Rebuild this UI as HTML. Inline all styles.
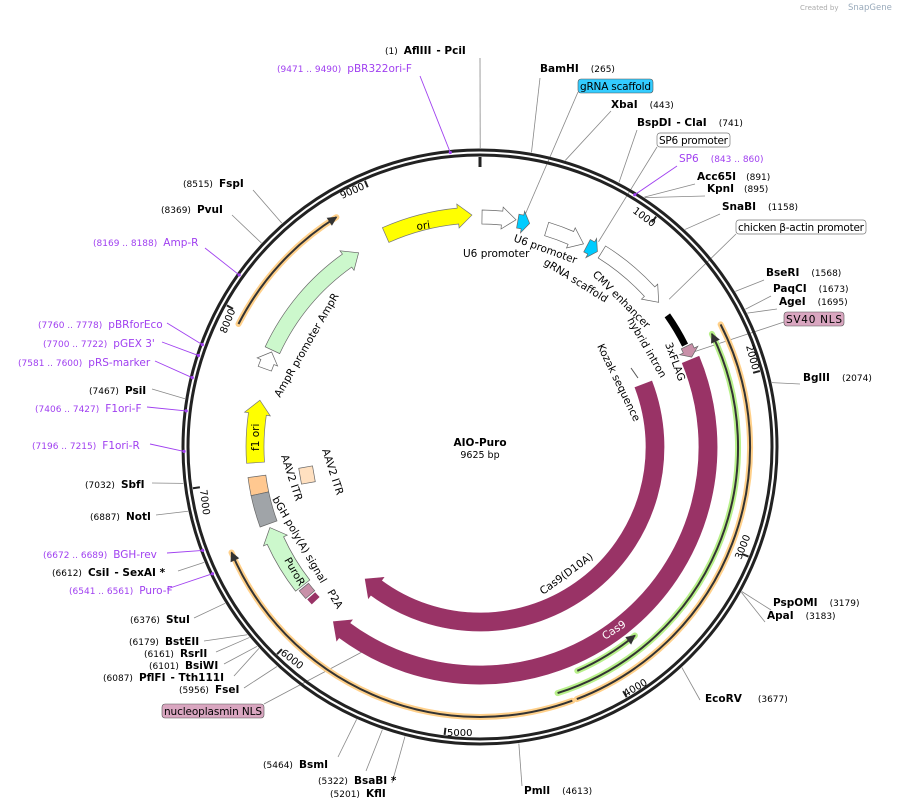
<!DOCTYPE html>
<html><head><meta charset="utf-8"><style>
html,body{margin:0;padding:0;background:#fff}
svg{display:block;font-family:"DejaVu Sans","Liberation Sans",sans-serif}
.e{font-size:10.5px;font-weight:bold;fill:#000}
.n{font-size:9px;fill:#000}
.p{font-size:10.5px;fill:#a040f0}
.f{font-size:10.5px;fill:#000}
.t{font-size:10px;fill:#000}
</style></head><body>
<svg id="s" width="897" height="809" viewBox="0 0 897 809" xmlns="http://www.w3.org/2000/svg">
<text x="800" y="10" style="font-size:7px;fill:#aaa">Created by</text><text x="848" y="10" style="font-size:8.5px;fill:#9ab">SnapGene</text>
<g id="lines" stroke="#888" stroke-width="0.8" fill="none"></g>
<g id="feat"></g>
<circle cx="480" cy="447" r="297" fill="none" stroke="#222" stroke-width="3"/>
<circle cx="480" cy="447" r="292" fill="none" stroke="#222" stroke-width="3"/>
<g id="ticks" stroke="#222" stroke-width="2"></g>
<g id="prim" stroke="#a040f0" stroke-width="2"></g>

<text class="t" transform="translate(632,212) rotate(37)">1000</text>
<text class="t" transform="translate(746,346) rotate(75)">2000</text>
<text class="t" transform="translate(741,560) rotate(-68)">3000</text>
<text class="t" transform="translate(626,697) rotate(-30)">4000</text>
<text class="t" x="447" y="736">5000</text>
<text class="t" transform="translate(280,654) rotate(38)">6000</text>
<text class="t" transform="translate(200,490) rotate(83)">7000</text>
<text class="t" transform="translate(226,334) rotate(-68)">8000</text>
<text class="t" transform="translate(342,199) rotate(-24)">9000</text>

<text x="480" y="446" text-anchor="middle" style="font-size:10.5px;font-weight:bold">AIO-Puro</text>
<text x="480" y="458" text-anchor="middle" style="font-size:9.5px">9625 bp</text>

<text class="f" transform="translate(417,230) rotate(-8)">ori</text>
<text class="f" x="463" y="257">U6 promoter</text>
<text class="f" transform="translate(513,241) rotate(20)">U6 promoter</text>
<text class="f" transform="translate(543,264) rotate(32)">gRNA scaffold</text>
<text class="f" transform="translate(592,275) rotate(45)">CMV enhancer</text>
<text class="f" transform="translate(627,320) rotate(60)">hybrid intron</text>
<text class="f" transform="translate(665,344) rotate(70)">3xFLAG</text>
<text class="f" transform="translate(597,346) rotate(64)">Kozak sequence</text>
<text class="f" transform="translate(543,595) rotate(-36)">Cas9(D10A)</text>
<text transform="translate(605,640) rotate(-33)" style="font-size:10.5px;fill:#fff">Cas9</text>
<text class="f" transform="translate(280,398) rotate(-60)">AmpR promoter   AmpR</text>
<text transform="translate(259,451) rotate(-90)" style="font-size:10.5px">f1 ori</text>
<text class="f" transform="translate(281,456) rotate(72)">AAV2 ITR</text>
<text class="f" transform="translate(322,450) rotate(72)">AAV2 ITR</text>
<text class="f" transform="translate(272,499) rotate(60)">bGH poly(A) signal</text>
<text transform="translate(284,560) rotate(60)" style="font-size:10.5px">PuroR</text>
<text class="f" transform="translate(327,592) rotate(60)">P2A</text>

<text x="385" y="54"><tspan class="n">(1)</tspan><tspan class="e" dx="6">AflIII</tspan><tspan class="e" dx="5">- PciI</tspan></text>
<text x="277" y="72" class="p"><tspan style="font-size:9px">(9471 .. 9490)</tspan><tspan dx="6">pBR322ori-F</tspan></text>
<text x="540" y="72"><tspan class="e">BamHI</tspan><tspan class="n" dx="12">(265)</tspan></text>
<rect x="578" y="79" width="75" height="14" rx="3" fill="#33ccff" stroke="#555" stroke-width="0.6"/><text class="f" x="580" y="90" textLength="71">gRNA scaffold</text>
<text x="611" y="108"><tspan class="e">XbaI</tspan><tspan class="n" dx="12">(443)</tspan></text>
<text x="637" y="126"><tspan class="e">BspDI</tspan><tspan class="e" dx="5">- ClaI</tspan><tspan class="n" dx="12">(741)</tspan></text>
<rect x="657" y="133" width="73" height="14" rx="3" fill="#fff" stroke="#777" stroke-width="0.7"/><text class="f" x="659" y="144" textLength="69">SP6 promoter</text>
<text x="679" y="162" class="p"><tspan>SP6</tspan><tspan dx="12" style="font-size:9px">(843 .. 860)</tspan></text>
<text x="697" y="180"><tspan class="e">Acc65I</tspan><tspan class="n" dx="10">(891)</tspan></text>
<text x="707" y="192"><tspan class="e">KpnI</tspan><tspan class="n" dx="10">(895)</tspan></text>
<text x="722" y="210"><tspan class="e">SnaBI</tspan><tspan class="n" dx="12">(1158)</tspan></text>
<rect x="736" y="220" width="130" height="14" rx="3" fill="#fff" stroke="#777" stroke-width="0.7"/><text class="f" x="738" y="231" textLength="126">chicken β-actin promoter</text>
<text x="766" y="276"><tspan class="e">BseRI</tspan><tspan class="n" dx="12">(1568)</tspan></text>
<text x="773" y="292"><tspan class="e">PaqCI</tspan><tspan class="n" dx="12">(1673)</tspan></text>
<text x="779" y="305"><tspan class="e">AgeI</tspan><tspan class="n" dx="12">(1695)</tspan></text>
<rect x="784" y="312" width="60" height="14" rx="3" fill="#d9a6c0" stroke="#555" stroke-width="0.6"/><text class="f" x="786" y="323" textLength="56">SV40 NLS</text>
<text x="803" y="381"><tspan class="e">BglII</tspan><tspan class="n" dx="12">(2074)</tspan></text>
<text x="773" y="606"><tspan class="e">PspOMI</tspan><tspan class="n" dx="12">(3179)</tspan></text>
<text x="767" y="619"><tspan class="e">ApaI</tspan><tspan class="n" dx="12">(3183)</tspan></text>
<text x="705" y="702"><tspan class="e">EcoRV</tspan><tspan class="n" dx="16">(3677)</tspan></text>
<text x="524" y="794"><tspan class="e">PmlI</tspan><tspan class="n" dx="12">(4613)</tspan></text>
<text x="330" y="797"><tspan class="n">(5201)</tspan><tspan class="e" dx="6">KflI</tspan></text>
<text x="318" y="784"><tspan class="n">(5322)</tspan><tspan class="e" dx="6">BsaBI *</tspan></text>
<text x="263" y="768"><tspan class="n">(5464)</tspan><tspan class="e" dx="6">BsmI</tspan></text>
<rect x="162" y="704" width="102" height="14" rx="3" fill="#d9a6c0" stroke="#555" stroke-width="0.6"/><text class="f" x="164" y="715" textLength="98">nucleoplasmin NLS</text>
<text x="179" y="693"><tspan class="n">(5956)</tspan><tspan class="e" dx="6">FseI</tspan></text>
<text x="103" y="681"><tspan class="n">(6087)</tspan><tspan class="e" dx="6">PflFI</tspan><tspan class="e" dx="5">- Tth111I</tspan></text>
<text x="149" y="669"><tspan class="n">(6101)</tspan><tspan class="e" dx="6">BsiWI</tspan></text>
<text x="144" y="657"><tspan class="n">(6161)</tspan><tspan class="e" dx="6">RsrII</tspan></text>
<text x="129" y="645"><tspan class="n">(6179)</tspan><tspan class="e" dx="6">BstEII</tspan></text>
<text x="130" y="623"><tspan class="n">(6376)</tspan><tspan class="e" dx="6">StuI</tspan></text>
<text x="69" y="594" class="p"><tspan style="font-size:9px">(6541 .. 6561)</tspan><tspan dx="6">Puro-F</tspan></text>
<text x="52" y="576"><tspan class="n">(6612)</tspan><tspan class="e" dx="6">CsiI</tspan><tspan class="e" dx="5">- SexAI *</tspan></text>
<text x="43" y="558" class="p"><tspan style="font-size:9px">(6672 .. 6689)</tspan><tspan dx="6">BGH-rev</tspan></text>
<text x="90" y="520"><tspan class="n">(6887)</tspan><tspan class="e" dx="6">NotI</tspan></text>
<text x="85" y="488"><tspan class="n">(7032)</tspan><tspan class="e" dx="6">SbfI</tspan></text>
<text x="32" y="449" class="p"><tspan style="font-size:9px">(7196 .. 7215)</tspan><tspan dx="6">F1ori-R</tspan></text>
<text x="35" y="412" class="p"><tspan style="font-size:9px">(7406 .. 7427)</tspan><tspan dx="6">F1ori-F</tspan></text>
<text x="89" y="394"><tspan class="n">(7467)</tspan><tspan class="e" dx="6">PsiI</tspan></text>
<text x="18" y="366" class="p"><tspan style="font-size:9px">(7581 .. 7600)</tspan><tspan dx="6">pRS-marker</tspan></text>
<text x="43" y="347" class="p"><tspan style="font-size:9px">(7700 .. 7722)</tspan><tspan dx="6">pGEX 3'</tspan></text>
<text x="38" y="328" class="p"><tspan style="font-size:9px">(7760 .. 7778)</tspan><tspan dx="6">pBRforEco</tspan></text>
<text x="93" y="246" class="p"><tspan style="font-size:9px">(8169 .. 8188)</tspan><tspan dx="6">Amp-R</tspan></text>
<text x="161" y="213"><tspan class="n">(8369)</tspan><tspan class="e" dx="6">PvuI</tspan></text>
<text x="183" y="187"><tspan class="n">(8515)</tspan><tspan class="e" dx="6">FspI</tspan></text>
</svg>
<script>
(function(){
var cx=480,cy=447,NS="http://www.w3.org/2000/svg";
function pt(r,d){var a=d*Math.PI/180;return [cx+r*Math.sin(a),cy-r*Math.cos(a)];}
function P(p){return p[0].toFixed(1)+","+p[1].toFixed(1);}
function el(g,tag,at){var e=document.createElementNS(NS,tag);for(var k in at)e.setAttribute(k,at[k]);document.getElementById(g).appendChild(e);return e;}
function arcP(r,a1,a2){var large=Math.abs(a2-a1)>180?1:0,sw=a2>a1?1:0;return "A"+r+","+r+" 0 "+large+","+sw+" "+P(pt(r,a2));}
function band(r,w,a1,a2,dir,fill,stroke){
  var ro=r+w/2,ri=r-w/2,head=Math.min(14/r*180/Math.PI,(a2-a1)*0.6),d;
  if(dir==1){var b=a2-head;
    d="M"+P(pt(ro,a1))+arcP(ro,a1,b)+"L"+P(pt(ro+4,b))+"L"+P(pt(r,a2))+"L"+P(pt(ri-4,b))+"L"+P(pt(ri,b))+arcP(ri,b,a1)+"Z";
  }else if(dir==-1){var b=a1+head;
    d="M"+P(pt(ro,a2))+arcP(ro,a2,b)+"L"+P(pt(ro+4,b))+"L"+P(pt(r,a1))+"L"+P(pt(ri-4,b))+"L"+P(pt(ri,b))+arcP(ri,b,a2)+"Z";
  }else{d="M"+P(pt(ro,a1))+arcP(ro,a1,a2)+"L"+P(pt(ri,a2))+arcP(ri,a2,a1)+"Z";}
  el("feat","path",{d:d,fill:fill,stroke:stroke||"#666","stroke-width":0.7});
}
function line(r,a1,a2,dir,halo){
  var d="M"+P(pt(r,a1))+arcP(r,a1,a2);
  el("feat","path",{d:d,fill:"none",stroke:halo,"stroke-width":6,"stroke-linecap":"round"});
  el("feat","path",{d:d,fill:"none",stroke:"#333","stroke-width":2});
  var e=dir==1?a2:a1,s=dir==1?-1:1,h=8/r*180/Math.PI;
  if(dir){el("feat","path",{d:"M"+P(pt(r+4,e+s*h))+"L"+P(pt(r,e))+"L"+P(pt(r-4,e+s*h))+"Z",fill:"#333",stroke:"#333","stroke-width":1});}
}
var MR="#993366";
line(270,63,159,0,"#ffd08a");
line(270,160,247,1,"#ffd08a");
line(271,297,328,1,"#ffd08a");
line(258,64,162.5,-1,"#b8f08a");
line(244,140.6,156.5,-1,"#b8f08a");
band(228,18,67.5,220,1,MR,MR);
band(175,18,69,221,1,MR,MR);
band(232,16,336,358,1,"#ffff00","#777");
band(230,14,0.5,9,1,"#fff","#666");
band(229,14,9.5,12.5,1,"#00ccff","#666");
band(228,14,17,27,1,"#fff","#666");
band(228,14,28,31,1,"#00ccff","#666");
band(230,14,32,51,1,"#fff","#666");
band(229,6,55,63.5,0,"#000","#000");
band(230,12,64,67,1,"#c890a8","#666");
band(229,16,295,328,1,"#ccf8cc","#666");
band(229,14,290,294.5,1,"#fff","#666");
band(225,18,266,282,1,"#ffff00","#777");
band(225,18,258,262.5,0,"#ffc890","#666");
band(225,18,250,258,0,"#a0a4a8","#666");
band(225,18,232,249,1,"#ccf8cc","#666");
band(225,12,229,231.5,0,"#c890a8","#666");
band(225,10,227,228.5,0,MR,MR);
el("feat","rect",{x:300,y:467,width:14,height:16,fill:"#ffe0c0",stroke:"#666","stroke-width":0.7,transform:"rotate(-10 307 475)"});
el("feat","line",{x1:631,y1:368,x2:638,y2:378,stroke:"#555","stroke-width":1});
for(var k=1;k<=9;k++){var a=k*1000/9625*360;var p1=pt(290,a),p2=pt(283,a);el("ticks","line",{x1:p1[0],y1:p1[1],x2:p2[0],y2:p2[1]});}
var p1=pt(290,0),p2=pt(280,0);el("ticks","line",{x1:p1[0],y1:p1[1],x2:p2[0],y2:p2[1],"stroke-width":3});
var S=[[1,480,58],[265,540,78],[443,611,111],[741,637,130],[891,695,184],[895,705,196],[1158,720,214],[1568,764,280],[1673,771,296],[1695,777,309],[2074,800,384],[3179,771,610],[3183,765,622],[3677,700,700],[4613,522,786],[5201,392,783],[5322,366,771],[5464,338,757],[5956,244,688],[6087,234,676],[6101,224,664],[6161,216,652],[6179,204,641],[6376,194,618],[6612,178,571],[6887,156,515],[7032,152,483],[7467,152,389],[8369,232,215],[8515,253,190]];
S.forEach(function(s){var a=s[0]/9625*360,p=pt(299,a);el("lines","line",{x1:p[0],y1:p[1],x2:s[1],y2:s[2]});});
var Pp=[[9471,420,76],[843,677,166],[6541,167,589],[6672,167,553],[7196,150,444],[7406,147,407],[7581,155,361],[7700,162,342],[7760,167,323],[8169,205,248]];
Pp.forEach(function(s){var a=s[0]/9625*360,p=pt(296,a);el("prim","line",{x1:p[0],y1:p[1],x2:s[1],y2:s[2],"stroke-width":0.9});el("prim","circle",{cx:p[0],cy:p[1],r:1.6,fill:"#a040f0",stroke:"none"});});
var F=[[237,11,578,92],[237,30,657,147],[240,52,736,234],[234,66,784,322],[237,210,264,704]];
F.forEach(function(s){var p=pt(s[0],s[1]);el("lines","line",{x1:p[0],y1:p[1],x2:s[2],y2:s[3]});});
})();
</script>
</body></html>
